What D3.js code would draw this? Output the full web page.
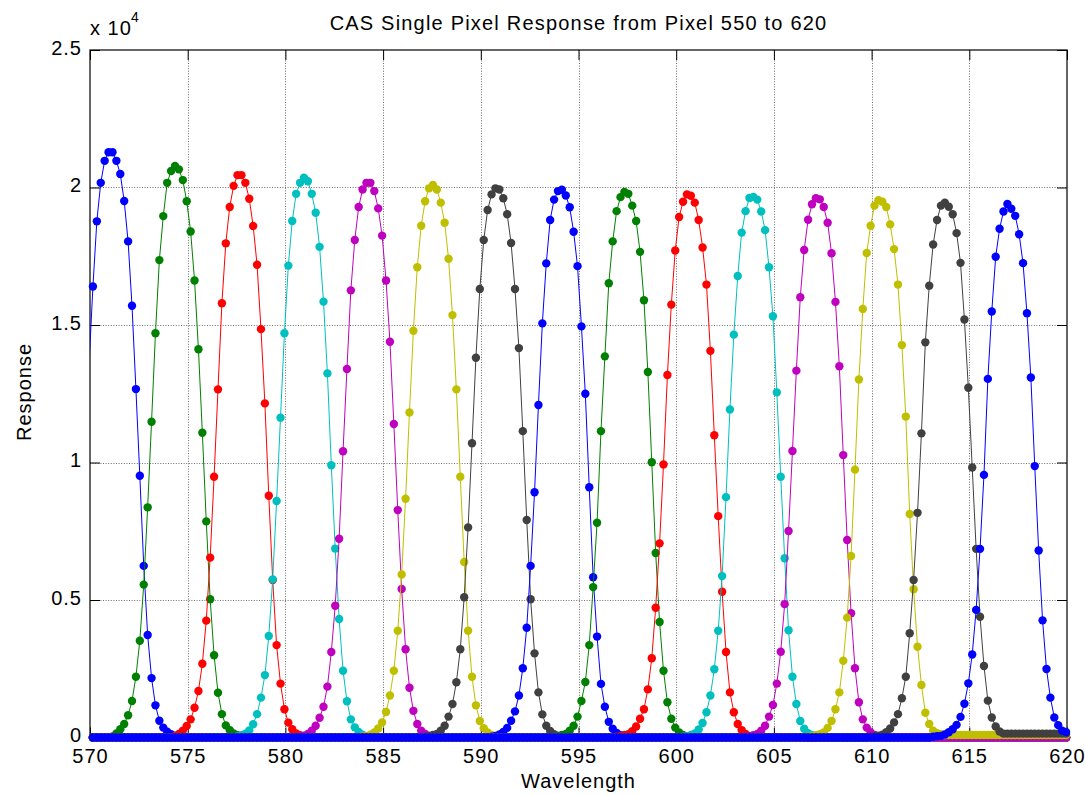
<!DOCTYPE html>
<html>
<head>
<meta charset="utf-8">
<script src="https://cdn.jsdelivr.net/npm/d3@7"></script>
<style>
  html, body { margin: 0; padding: 0; background: #fff; }
  svg { display: block; font-family: "Liberation Sans", Arial, Helvetica, sans-serif; }
</style>
</head>
<body>
<svg id="chart" width="1085" height="795"></svg>
<script>
// Monochromator scan: wavelength of sample k is scanStart + k * scanStep (nm)
const scanStart = 569.95;
const scanStep = 0.2;
const scanCount = 251;

// Detector pixels plotted, one response curve each
const pixels = [550, 555, 560, 565, 570, 575, 580, 585, 590, 595, 600, 605, 610, 615, 620];

// Index of the first listed sample of each curve; samples outside a run lie on the zero baseline
const runStart = [0, 6, 22, 38, 54, 70, 86, 103, 119, 135, 152, 168, 184, 200, 216];

// Response counts per pixel
const resp550 = [13560, 16400, 18770, 20170, 20970, 21280, 21280, 20970, 20490, 19510, 18040, 15700, 12670, 9520, 6240, 3730, 2160, 1170, 610, 360, 210, 120, 60, 30];
const resp555 = [40, 150, 300, 490, 810, 1330, 2210, 3520, 5560, 8370, 11480, 14700, 17360, 18960, 20170, 20600, 20780, 20660, 20270, 19500, 18400, 16620, 14120, 11080, 7860, 5030, 2990, 1630, 850, 440, 270, 150, 80, 40];
const resp560 = [60, 130, 250, 420, 660, 1080, 1690, 2680, 4250, 6540, 9480, 12660, 15790, 17970, 19290, 20060, 20450, 20450, 20170, 19590, 18600, 17190, 14850, 12150, 8790, 5730, 3360, 1960, 1030, 540, 300, 150, 80, 40];
const resp565 = [40, 80, 140, 260, 480, 850, 1450, 2270, 3690, 5750, 8600, 11630, 14700, 17160, 18780, 19770, 20170, 20360, 20230, 19770, 19080, 17840, 15850, 13240, 9900, 6870, 4310, 2430, 1320, 660, 370, 200, 100, 50];
const resp570 = [40, 70, 130, 250, 430, 720, 1120, 1850, 3110, 4790, 7230, 10410, 13400, 16260, 18090, 19290, 19930, 20170, 20170, 19870, 19240, 18250, 16620, 14390, 11400, 8270, 5400, 3210, 1810, 970, 490, 250, 130, 60];
const resp575 = [40, 60, 100, 180, 330, 550, 930, 1530, 2430, 3880, 5930, 8680, 11820, 14790, 17100, 18610, 19500, 19970, 20090, 19930, 19450, 18720, 17410, 15360, 12660, 9480, 6380, 3880, 2210, 1170, 600, 340, 180, 90, 40];
const resp580 = [30, 60, 90, 130, 250, 430, 760, 1220, 2010, 3210, 5100, 7640, 10700, 13810, 16310, 18090, 19180, 19750, 19970, 19930, 19610, 19030, 17980, 16310, 14160, 11140, 7910, 5030, 3060, 1640, 840, 430, 240, 120, 60];
const resp585 = [30, 60, 110, 200, 350, 610, 950, 1530, 2520, 3990, 6240, 8920, 12090, 15060, 17240, 18820, 19560, 19870, 19920, 19710, 19280, 18390, 17140, 14950, 12500, 9100, 5830, 3670, 1950, 1120, 570, 320, 170, 80, 40];
const resp590 = [30, 60, 90, 130, 250, 430, 760, 1330, 2020, 3360, 5470, 7810, 11140, 13860, 16520, 18040, 19140, 19650, 19840, 19770, 19340, 18780, 17660, 15900, 13290, 10010, 6710, 4200, 2430, 1280, 680, 360, 180, 90, 40];
const resp595 = [30, 60, 90, 120, 230, 400, 680, 1030, 1750, 2880, 4720, 7060, 9930, 13180, 15740, 17710, 18930, 19480, 19750, 19700, 19450, 18820, 17820, 16470, 14060, 10990, 8050, 5300, 3110, 1640, 920, 490, 270, 130, 60];
const resp600 = [30, 50, 90, 150, 290, 530, 920, 1530, 2480, 3880, 5870, 8740, 11930, 14650, 16780, 18360, 19140, 19620, 19660, 19560, 19130, 18450, 17100, 15320, 12550, 9480, 6520, 3900, 2210, 1220, 600, 320, 160, 80, 40];
const resp605 = [30, 50, 80, 130, 250, 430, 760, 1180, 1960, 3120, 4850, 7510, 10420, 13340, 16010, 17730, 18830, 19390, 19610, 19570, 19290, 18720, 17610, 15840, 13500, 10270, 7180, 4520, 2520, 1280, 660, 360, 180, 90, 40];
const resp610 = [30, 50, 80, 120, 180, 350, 600, 1030, 1640, 2790, 4360, 6600, 9740, 13020, 15580, 17620, 18610, 19340, 19540, 19480, 19290, 18660, 17760, 16470, 14270, 11670, 8130, 5390, 3300, 1910, 900, 490, 250, 160, 120,
  90, 90, 90, 90, 90, 90, 90, 90, 90, 90, 90, 90, 90, 90, 90, 90, 90, 90, 90, 90, 90, 90, 90, 90, 90, 90, 90, 90, 90, 90, 90, 90];
const resp615 = [30, 50, 70, 100, 190, 330, 550, 850, 1430, 2210, 3790, 5730, 8170, 11060, 14370, 16430, 17930, 18820, 19340, 19450, 19300, 19030, 18340, 17260, 15200, 12720, 9820, 6860, 4390, 2600, 1340, 730, 400, 220,
  140, 140, 140, 140, 140, 140, 140, 140, 140, 140, 140, 140, 140, 140, 140, 140, 140];
const resp620 = [30, 50, 60, 110, 190, 300, 460, 750, 1230, 1970, 3020, 4640, 6860, 9550, 13040, 15490, 17480, 18500, 19130, 19400, 19230, 18970, 18300, 17250, 15430, 13090, 9870, 6800, 4260, 2490, 1450, 730, 450, 250, 200];

const responses = [resp550, resp555, resp560, resp565, resp570, resp575, resp580, resp585,
                   resp590, resp595, resp600, resp605, resp610, resp615, resp620];

// Axis ticks
const xTicks = [570, 575, 580, 585, 590, 595, 600, 605, 610, 615, 620];
const yTicks = [0, 5000, 10000, 15000, 20000, 25000];
const yTickLabels = ["0", "0.5", "1", "1.5", "2", "2.5"];

// Line colour order (cycled)
const colorOrder = ["#0000ff", "#008000", "#ff0000", "#00bfbf", "#bf00bf", "#bfbf00", "#404040"];

// ---- layout ----
const W = 1085, H = 795;
const plot = { left: 90, right: 1067, top: 50, bottom: 737.5 };
const FONT = 20;

const svg = d3.select("#chart");
svg.append("rect").attr("width", W).attr("height", H).attr("fill", "#fff");

const x = d3.scaleLinear().domain([570, 620]).range([plot.left, plot.right]);
const y = d3.scaleLinear().domain([0, 25000]).range([plot.bottom, plot.top]);

// Dotted grid
const grid = svg.append("g").attr("stroke", "#6e6e6e").attr("stroke-width", 1)
  .attr("stroke-dasharray", "1 1.6").attr("fill", "none");
grid.selectAll("line.v").data(xTicks.slice(1, -1)).join("line").attr("class", "v")
  .attr("x1", d => Math.round(x(d)) + 0.5).attr("x2", d => Math.round(x(d)) + 0.5)
  .attr("y1", plot.top).attr("y2", plot.bottom);
grid.selectAll("line.h").data(yTicks.slice(1, -1)).join("line").attr("class", "h")
  .attr("x1", plot.left).attr("x2", plot.right)
  .attr("y1", d => Math.round(y(d)) + 0.5).attr("y2", d => Math.round(y(d)) + 0.5);

// Axes: inward ticks on all four sides
function styleAxis(g) {
  g.select(".domain").remove();
  g.selectAll(".tick line").attr("stroke", "#000").attr("stroke-width", 1);
  g.selectAll(".tick text").attr("fill", "#000").attr("font-size", FONT)
    .attr("letter-spacing", "1px")
    .attr("font-family", '"Liberation Sans", Arial, Helvetica, sans-serif');
}

svg.append("g").attr("transform", `translate(0,${plot.bottom})`)
  .call(d3.axisBottom(x).tickValues(xTicks).tickFormat(d3.format("d"))
        .tickSizeInner(-10).tickSizeOuter(0).tickPadding(11))
  .call(styleAxis);
svg.append("g").attr("transform", `translate(0,${plot.top})`)
  .call(d3.axisTop(x).tickValues(xTicks).tickFormat("").tickSizeInner(-10).tickSizeOuter(0))
  .call(styleAxis);
svg.append("g").attr("transform", `translate(${plot.left},0)`)
  .call(d3.axisLeft(y).tickValues(yTicks).tickFormat((d, i) => yTickLabels[i])
        .tickSizeInner(-10).tickSizeOuter(0).tickPadding(8))
  .call(styleAxis)
  .call(g => g.selectAll(".tick text").attr("dy", "0.2em"));
svg.append("g").attr("transform", `translate(${plot.right},0)`)
  .call(d3.axisRight(y).tickValues(yTicks).tickFormat("").tickSizeInner(-10).tickSizeOuter(0))
  .call(styleAxis);

// Box
svg.append("rect")
  .attr("x", plot.left).attr("y", plot.top)
  .attr("width", plot.right - plot.left).attr("height", plot.bottom - plot.top)
  .attr("fill", "none").attr("stroke", "#000").attr("stroke-width", 1.2);

// Titles and labels
const txt = (s, px, py, opts = {}) => svg.append("text")
  .attr("x", px).attr("y", py).attr("font-size", opts.size || FONT)
  .attr("letter-spacing", opts.ls || "1px")
  .attr("text-anchor", opts.anchor || "middle").attr("fill", "#000")
  .attr("transform", opts.transform || null).text(s);

txt("CAS Single Pixel Response from Pixel 550 to 620", (plot.left + plot.right) / 2, 30, { ls: "1.2px" });
txt("Wavelength", (plot.left + plot.right) / 2, 788);
txt("Response", 0, 0, { transform: "translate(31,392) rotate(-90)" });
txt("x 10", plot.left, 35, { anchor: "start" });
txt("4", plot.left + 41, 22, { anchor: "start", size: 14, ls: "0px" });

// ---- data ----
svg.append("clipPath").attr("id", "plotClip").append("rect")
  .attr("x", plot.left).attr("y", plot.top - 5)
  .attr("width", plot.right - plot.left).attr("height", plot.bottom - plot.top + 10);

const series = pixels.map((p, i) => {
  const run = responses[i];
  const start = runStart[i];
  return d3.range(scanCount).map(k => {
    const j = k - start;
    return {
      w: scanStart + k * scanStep,
      v: (j >= 0 && j < run.length) ? run[j] : 0
    };
  });
});

const line = d3.line().x(d => x(d.w)).y(d => y(d.v));
const data = svg.append("g");

series.forEach((s, i) => {
  const c = colorOrder[i % colorOrder.length];
  const g = data.append("g");
  g.append("path").datum(s)
    .attr("d", line).attr("fill", "none").attr("stroke", c).attr("stroke-width", 1)
    .attr("clip-path", "url(#plotClip)");
  g.selectAll("circle").data(s.filter(d => d.w >= 570 && d.w <= 620)).join("circle")
    .attr("cx", d => x(d.w)).attr("cy", d => y(d.v)).attr("r", 4.2).attr("fill", c);
});
</script>
</body>
</html>
